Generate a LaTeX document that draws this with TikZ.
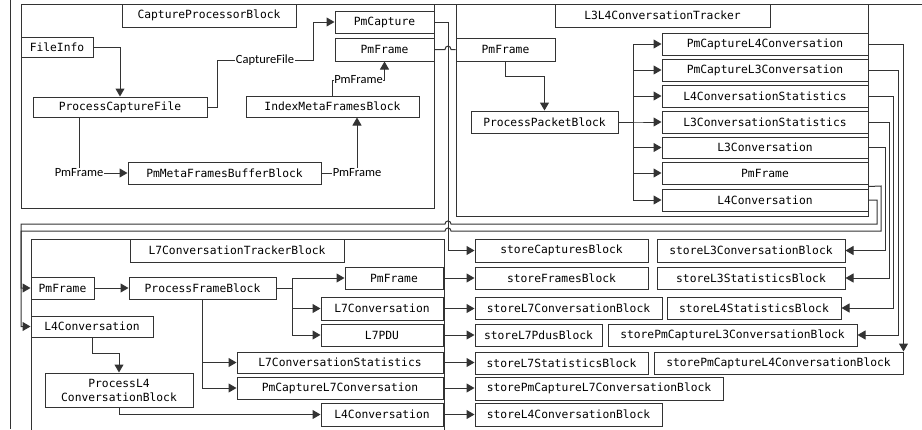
\documentclass[tikz,border=0pt]{standalone}
\usepackage{fontspec}
\setmainfont{Carlito}
\newfontfamily\monof{DejaVu Sans Mono}
\usetikzlibrary{arrows.meta}
\tikzset{
  bx/.style={draw=black!80, line width=1pt, inner sep=0pt, align=center,
    font=\monof\fontsize{11.3}{14}\selectfont, text=black},
  wire/.style={draw=black!80, line width=1pt},
  arr/.style={wire, -{Triangle[length=8pt,width=9pt]}},
  lbl/.style={fill=white, inner sep=0.6pt, font=\fontsize{12.5}{14}\selectfont, text=black},
}
\newcommand\mkbox[6]{\node[bx, minimum width={(#4-#2)*1pt}, minimum height={(#5-#3)*1pt}]
  (#1) at ({(#2+#4)/2},{(#3+#5)/2}) {#6};}
\begin{document}
\begin{tikzpicture}[x=1pt,y=-1pt]
\useasboundingbox (0,0) rectangle (922,429);
\clip (0,0) rectangle (922,429);
\fill[white] (0,0) rectangle (922,429);
% outer frame lines
\draw[wire] (10,0) -- (10,429);
\draw[wire] (434,4) -- (456,4);
\draw[wire] (868,4) -- (922,4);
% containers
\mkbox{cp}{21}{4}{434}{208}{}
\mkbox{l34}{456}{4}{868}{216}{}
\mkbox{l7}{31}{239}{444}{445}{}
% CaptureProcessor
\mkbox{cpt}{122}{4}{296}{27}{CaptureProcessorBlock}
\mkbox{fileinfo}{21}{37}{93}{57}{FileInfo}
\mkbox{pcf}{33}{97}{207}{117}{ProcessCaptureFile}
\mkbox{pmcap}{335}{11}{434}{33}{PmCapture}
\mkbox{pmf1}{335}{38}{434}{61}{PmFrame}
\mkbox{imfb}{246}{96}{419}{117}{IndexMetaFramesBlock}
\mkbox{pmfbb}{128}{162}{321}{184}{PmMetaFramesBufferBlock}
% L3L4
\mkbox{l34t}{555}{4}{770}{27}{L3L4ConversationTracker}
\mkbox{pmf2}{456}{38}{555}{61}{PmFrame}
\mkbox{ppb}{471}{111}{618}{133}{ProcessPacketBlock}
\mkbox{a1}{662}{33}{868}{55}{PmCaptureL4Conversation}
\mkbox{a2}{662}{59}{868}{81}{PmCaptureL3Conversation}
\mkbox{a3}{662}{85}{868}{107}{L4ConversationStatistics}
\mkbox{a4}{662}{111}{868}{133}{L3ConversationStatistics}
\mkbox{a5}{662}{137}{868}{158}{L3Conversation}
\mkbox{a6}{662}{162}{868}{184}{PmFrame}
\mkbox{a7}{662}{189}{868}{211}{L4Conversation}
% L7
\mkbox{l7t}{130}{239}{344}{262}{L7ConversationTrackerBlock}
\mkbox{bpm}{31}{277}{94}{299}{PmFrame}
\mkbox{bl4}{31}{316}{153}{337}{L4Conversation}
\mkbox{pfb}{129}{277}{276}{299}{ProcessFrameBlock}
\mkbox{pl4}{45}{373}{193}{407}{ProcessL4\\ConversationBlock}
\mkbox{o1}{345}{267}{443}{289}{PmFrame}
\mkbox{o2}{321}{297}{443}{320}{L7Conversation}
\mkbox{o3}{321}{324}{443}{346}{L7PDU}
\mkbox{o4}{237}{352}{443}{373}{L7ConversationStatistics}
\mkbox{o5}{237}{377}{443}{399}{PmCaptureL7Conversation}
\mkbox{o6}{321}{403}{443}{426}{L4Conversation}
% stores
\mkbox{s1}{475}{239}{648}{262}{storeCapturesBlock}
\mkbox{s2}{475}{267}{648}{289}{storeFramesBlock}
\mkbox{s3}{475}{297}{662}{319}{storeL7ConversationBlock}
\mkbox{s4}{475}{324}{602}{346}{storeL7PdusBlock}
\mkbox{s5}{475}{352}{648}{374}{storeL7StatisticsBlock}
\mkbox{s6}{475}{377}{723}{400}{storePmCaptureL7ConversationBlock}
\mkbox{s7}{475}{403}{662}{426}{storeL4ConversationBlock}
\mkbox{r1}{657}{239}{845}{262}{storeL3ConversationBlock}
\mkbox{r2}{657}{267}{845}{289}{storeL3StatisticsBlock}
\mkbox{r3}{667}{297}{841}{319}{storeL4StatisticsBlock}
\mkbox{r4}{608}{324}{857}{346}{storePmCaptureL3ConversationBlock}
\mkbox{r5}{654}{352}{903}{374}{storePmCaptureL4ConversationBlock}
% CaptureProcessor wires
\draw[arr] (fileinfo.east) -| (pcf.north);
\draw[arr] (pcf.east) -| (217,60) -- node[lbl]{CaptureFile} (313,60) |- (pmcap.west);
\draw[arr] ([xshift=-41pt]pcf.south) |- node[lbl,pos=0.5]{PmFrame} (pmfbb.west);
\draw[arr] (pmfbb.east) -| node[lbl,pos=0.5]{PmFrame} ([xshift=24.5pt]imfb.south);
\draw[arr] (imfb.north) |- node[lbl,pos=0.75]{PmFrame} (384.5,80) -- (pmf1.south);
\draw[wire] (pmf1.east) -- (445,49.5) .. controls (445,45) and (451,45) .. (451,49.5) -- (pmf2.west);
\draw[arr] (pmcap.east) -| (448,250.5) -- (s1.west);
% L3L4 wires
\draw[arr] (pmf2.south) |- (544.5,76) -- (ppb.north);
\foreach \n in {a1,a2,a3,a4,a5,a6,a7} {\draw[arr] (ppb.east) -- (633,122) |- (\n.west);}
\draw[arr] (a1.east) -| (r5.north east);
\draw[arr] (a2.east) -- ([xshift=30pt]a2.east) |- (r4.east);
\draw[arr] (a3.east) -- ([xshift=25pt]a3.east) |- (r3.east);
\draw[arr] (a4.east) -- ([xshift=21pt]a4.east) |- (r2.east);
\draw[arr] (a5.east) -- ([xshift=17pt]a5.east) |- (r1.east);
\draw[arr] ([yshift=-2pt]a6.south east) -- (881,186) -- (881,231) -- (451,231) .. controls (451,227) and (445,227) .. (445,231) -- (21,231) |- (bpm.west);
\draw[arr] (a7.east) -- (877,200) -- (877,224) -- (451,224) .. controls (451,220) and (445,220) .. (445,224) -- (21,224) |- (bl4.west);
% L7 wires
\draw[arr] (bpm.east) -- (pfb.west);
\draw[arr] (bl4.south) |- (119,353) -- (pl4.north);
\draw[arr] (pl4.south) |- (o6.west);
\foreach \n in {o1,o2,o3} {\draw[arr] (pfb.east) -- (292,288) |- (\n.west);}
\foreach \n in {o4,o5} {\draw[arr] (pfb.south) |- (\n.west);}
\draw[arr] (o1.east) -- (o1.east -| s2.west);
\draw[arr] (o2.east) -- (o2.east -| s3.west);
\draw[arr] (o3.east) -- (o3.east -| s4.west);
\draw[arr] (o4.east) -- (o4.east -| s5.west);
\draw[arr] (o5.east) -- (o5.east -| s6.west);
\draw[arr] (o6.east) -- (o6.east -| s7.west);
\end{tikzpicture}
\end{document}
